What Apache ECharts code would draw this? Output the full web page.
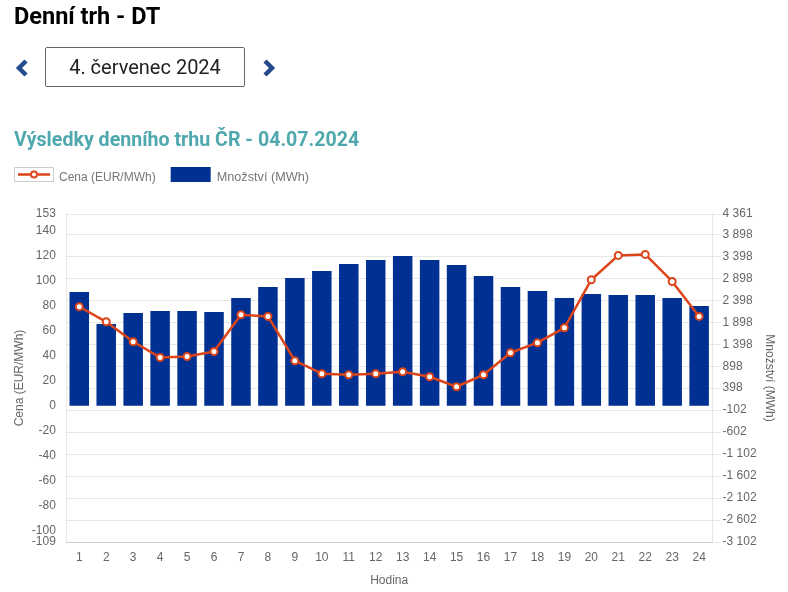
<!DOCTYPE html>
<html lang="cs">
<head>
<meta charset="utf-8">
<title>Denní trh - DT</title>
<script src="https://cdn.jsdelivr.net/npm/echarts@6/dist/echarts.min.js"></script>
<style>
	html, body { margin: 0; padding: 0; background: #fff; }
	body { width: 788px; height: 592px; position: relative; overflow: hidden; font-family: Roboto, sans-serif; }
	#chart { position: absolute; left: 0; top: 0; width: 788px; height: 592px; }
	h1 { position: absolute; left: 14px; top: 3px; margin: 0; font-size: 23.5px; line-height: 26px; font-weight: 700; color: #000; }
	.date { position: absolute; left: 45px; top: 47px; width: 198px; height: 38px; border: 1px solid #666; border-radius: 2px;
		text-align: center; font-size: 20px; line-height: 38px; color: #222; }
	.nav { position: absolute; top: 59px; }
</style>
</head>
<body>
<div id="chart"></div>
<h1>Denní trh - DT</h1>
<svg class="nav" style="left:15px" width="16" height="18" viewBox="0 0 16 18"><path d="M11 2 L4 9 L11 16" fill="none" stroke="#264a8c" stroke-width="4.5"/></svg>
<div class="date">4. červenec 2024</div>
<svg class="nav" style="left:260px" width="16" height="18" viewBox="0 0 16 18"><path d="M5 2 L12 9 L5 16" fill="none" stroke="#264a8c" stroke-width="4.5"/></svg>
<script>
const hours = ["1","2","3","4","5","6","7","8","9","10","11","12","13","14","15","16","17","18","19","20","21","22","23","24"];
const prices = [78.9,66.9,51,38.4,39.2,43.2,72.5,71.2,35.8,25.4,24.6,25.4,27,23,15,24.6,42.2,50.2,62.1,100.5,119.9,120.7,99.1,71.2];
const volumes = [2586,1859,2109,2155,2155,2132,2450,2700,2905,3064,3223,3314,3405,3314,3200,2950,2700,2609,2450,2541,2518,2518,2450,2268];
const priceTicks = [-100,-80,-60,-40,-20,0,20,40,60,80,100,120,140,153];
const priceMinTick = [-109];
const volumeTicks = [-3102,-2602,-2102,-1602,-1102,-602,-102,398,898,1398,1898,2398,2898,3398,3898,4361];

const axisFont = {color: "#666", fontSize: 12, fontFamily: "Liberation Sans"};
const nameFont = {color: "#666", fontSize: 12, fontFamily: "Liberation Sans"};
// legend sample: line with a ring, the two tiny corners keep the 40x15 box so the path is not stretched
const lineIcon = "path://M0 0L.01 0Z M40 15L39.99 15Z M4 6.2H16V8.8H4Z M24 6.2H36V8.8H24Z"
	+ " M16 7.5A4 4 0 1 1 24 7.5A4 4 0 1 1 16 7.5Z M18 7.5A2 2 0 1 0 22 7.5A2 2 0 1 0 18 7.5Z";

const chart = echarts.init(document.getElementById("chart"));
chart.setOption({
	animation: false,
	title: {
		text: "Výsledky denního trhu ČR - 04.07.2024",
		left: 14,
		top: 131,
		padding: 0,
		textStyle: {color: "#4fa8ad", fontSize: 19.6, fontWeight: "bold", fontFamily: "Roboto"},
	},
	legend: {
		left: 14,
		top: 167,
		padding: 0,
		itemWidth: 40,
		itemHeight: 15,
		itemGap: 15,
		formatter: (name) => (name.startsWith("Cena") ? `{t|${name}}` : `{u|${name}}`),
		textStyle: {
			rich: {
				t: {color: "#777", fontSize: 12, fontFamily: "Liberation Sans", padding: [6, 0, 0, 0]},
				u: {color: "#777", fontSize: 12.7, fontFamily: "Liberation Sans", padding: [6, 0, 0, 1]},
			},
		},
		data: [
			{name: "Cena (EUR/MWh)", icon: lineIcon, itemStyle: {color: "#dc4419", borderWidth: 0}},
			{name: "Množství (MWh)", icon: "rect"},
		],
	},
	graphic: [{
		type: "rect",
		shape: {x: 14.5, y: 167.5, width: 39, height: 14},
		style: {fill: "none", stroke: "#ccc", lineWidth: 1},
		silent: true,
	}],
	grid: {left: 65.8, right: 75.4, top: 214, bottom: 50, outerBoundsMode: "none"},
	xAxis: {
		type: "category",
		data: hours,
		name: "Hodina",
		nameLocation: "middle",
		nameGap: 33,
		nameTextStyle: nameFont,
		axisLine: {onZero: false, lineStyle: {color: "#ccc"}},
		axisTick: {show: false},
		axisLabel: {...axisFont, margin: 10},
	},
	yAxis: [{
		type: "value",
		position: "left",
		min: -109,
		max: 153,
		name: "Cena (EUR/MWh)",
		nameLocation: "middle",
		nameGap: 40,
		nameMoveOverlap: false,
		nameTextStyle: nameFont,
		axisLine: {show: true, lineStyle: {color: "#e6e6e6"}},
		axisTick: {show: false, customValues: priceTicks},
		axisLabel: {...axisFont, margin: 10, customValues: priceTicks},
		splitLine: {show: false},
	}, {
		type: "value",
		position: "right",
		min: -3102,
		max: 4361,
		name: "Množství (MWh)",
		nameLocation: "middle",
		nameGap: 51,
		nameRotate: -90,
		nameMoveOverlap: false,
		nameTextStyle: nameFont,
		axisLine: {show: true, lineStyle: {color: "#e6e6e6"}},
		axisTick: {show: true, length: 8, lineStyle: {color: "#e6e6e6"}, customValues: volumeTicks},
		axisLabel: {
			...axisFont,
			margin: 10,
			customValues: volumeTicks,
			formatter: (v) => String(v).replace(/\B(?=(\d{3})+$)/g, " "),
		},
		splitLine: {show: true, lineStyle: {color: "#e6e6e6"}},
	}, {
		// -109 sits too close to -100 and one of them gets dropped on a single axis
		type: "value",
		position: "left",
		min: -109,
		max: 153,
		axisLine: {show: false},
		axisTick: {show: false, customValues: priceMinTick},
		axisLabel: {...axisFont, margin: 10, customValues: priceMinTick},
		splitLine: {show: false},
	}],
	series: [{
		name: "Množství (MWh)",
		type: "bar",
		yAxisIndex: 1,
		data: volumes,
		barWidth: 19.5,
		itemStyle: {color: "#003092"},
		z: 2,
	}, {
		name: "Cena (EUR/MWh)",
		type: "line",
		yAxisIndex: 0,
		data: prices,
		symbol: "circle",
		symbolSize: 7,
		showSymbol: true,
		lineStyle: {color: "#dc4419", width: 2.5},
		itemStyle: {color: "#fff", borderColor: "#dc4419", borderWidth: 2},
		z: 3,
	}],
});
</script>
</body>
</html>
